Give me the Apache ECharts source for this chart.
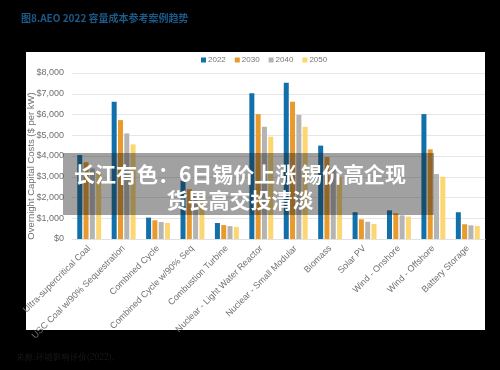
<!DOCTYPE html>
<html>
<head>
<meta charset="utf-8">
<script src="https://cdn.jsdelivr.net/npm/echarts@6/dist/echarts.min.js"></script>
<style>
  html, body { margin: 0; padding: 0; background: #000; }
  #chart { width: 500px; height: 370px; }
</style>
</head>
<body>
<div id="chart"></div>
<script>
// 数据
var categories = [
  "Ultra-supercritical Coal",
  "USC Coal w/90% Sequestration",
  "Combined Cycle",
  "Combined Cycle w/90% Seq",
  "Combustion Turbine",
  "Nuclear - Light Water Reactor",
  "Nuclear - Small Modular",
  "Biomass",
  "Solar PV",
  "Wind - Onshore",
  "Wind - Offshore",
  "Battery Storage"
];
var years = ["2022", "2030", "2040", "2050"];
var v2022 = [4050, 6620, 1030, 2810, 770, 7020, 7530, 4500, 1290, 1380, 6020, 1290];
var v2030 = [3700, 5730, 900, 2400, 670, 6020, 6620, 3950, 950, 1240, 4320, 710];
var v2040 = [3400, 5090, 820, 2100, 620, 5410, 5980, 3400, 830, 1140, 3130, 660];
var v2050 = [3200, 4560, 770, 1900, 580, 4930, 5410, 3000, 720, 1080, 3000, 630];
var yTicks = [0, 1000, 2000, 3000, 4000, 5000, 6000, 7000, 8000];

(function() {
  var myChart = echarts.init(document.getElementById("chart"));
  var colors = ["#1170aa", "#e89a2c", "#b4b4b4", "#fcd670"];
  var allData = [v2022, v2030, v2040, v2050];

  var series = years.map(function(y, i) {
    return {
      name: y,
      type: "bar",
      barWidth: 5,
      barGap: "26%",
      data: allData[i],
      z: 2
    };
  });

  var option = {
    backgroundColor: "#000",
    animation: false,
    color: colors,
    title: {
      text: "图8.AEO 2022 容量成本参考案例趋势",
      left: 16,
      top: 8,
      textStyle: {
        color: "#1b5a8a",
        fontSize: 10,
        fontWeight: "bold",
        fontFamily: "Noto Sans CJK SC"
      }
    },
    legend: {
      data: years,
      left: 196,
      top: 51,
      itemWidth: 5,
      itemHeight: 5,
      itemGap: 9,
      icon: "rect",
      textStyle: { color: "#777", fontSize: 8, fontFamily: "Liberation Sans", padding: [0, 0, 0, -3] }
    },
    grid: {
      left: 72,
      right: 15,
      top: 73,
      bottom: 131
    },
    xAxis: {
      type: "category",
      data: categories,
      axisTick: { show: false },
      axisLine: { lineStyle: { color: "#e0e0e0", width: 1 } },
      axisLabel: {
        rotate: 45,
        interval: 0,
        color: "#707070",
        fontSize: 9,
        margin: 8,
        fontFamily: "Liberation Sans"
      }
    },
    yAxis: {
      type: "value",
      min: 0,
      max: 8000,
      interval: 1000,
      axisLine: { show: false },
      axisTick: { show: false },
      axisLabel: {
        color: "#707070",
        fontSize: 9,
        margin: 8,
        fontFamily: "Liberation Sans",
        formatter: function(v) {
          return yTicks.indexOf(v) >= 0 ? "$" + v.toLocaleString("en-US") : "";
        }
      },
      splitLine: { lineStyle: { color: "#e6e6e6" } }
    },
    graphic: [
      {
        // 白色面板
        type: "rect",
        z: -10,
        shape: { x: 26, y: 52, width: 459, height: 278 },
        style: { fill: "#fff" }
      },
      {
        // y轴名称
        type: "text",
        x: 31,
        y: 166,
        rotation: Math.PI / 2,
        style: {
          text: "Overnight Capital Costs ($ per kW)",
          fill: "#707070",
          fontSize: 9.5,
          fontFamily: "Liberation Sans",
          textAlign: "center",
          textVerticalAlign: "middle"
        }
      },
      {
        // 半透明横幅
        type: "rect",
        z: 100,
        shape: { x: 63, y: 153, width: 371, height: 62 },
        style: { fill: "rgba(30,30,30,0.42)" }
      },
      {
        type: "text",
        z: 101,
        x: 240,
        y: 174,
        style: {
          text: "长江有色：6日锡价上涨 锡价高企现",
          fill: "#fff",
          fontSize: 21,
          fontWeight: "bold",
          fontFamily: "Noto Sans CJK SC",
          textAlign: "center",
          textVerticalAlign: "middle"
        }
      },
      {
        type: "text",
        z: 101,
        x: 240,
        y: 200,
        style: {
          text: "货畏高交投清淡",
          fill: "#fff",
          fontSize: 21,
          fontWeight: "bold",
          fontFamily: "Noto Sans CJK SC",
          textAlign: "center",
          textVerticalAlign: "middle"
        }
      },
      {
        type: "text",
        left: 16,
        top: 353,
        style: {
          text: "来源:环境影响评价(2022).",
          fill: "#1e1e1e",
          fontSize: 8.5,
          fontFamily: "Noto Serif CJK SC, DejaVu Serif, serif"
        }
      }
    ],
    series: series
  };

  myChart.setOption(option);
  window.addEventListener("resize", function() {
    myChart.resize();
  });
})();
</script>
</body>
</html>
